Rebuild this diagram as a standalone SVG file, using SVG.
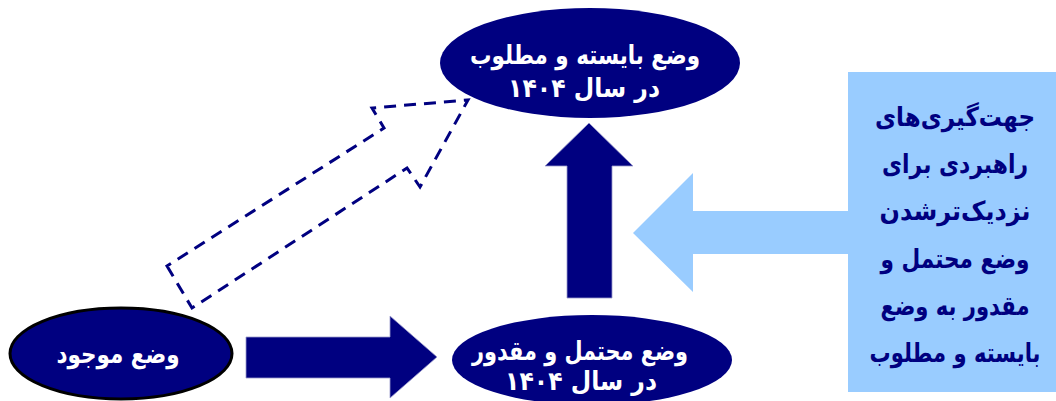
<svg xmlns="http://www.w3.org/2000/svg" width="1056" height="401" viewBox="0 0 1056 401">
<style>
.n{fill:#000080}
.wt{fill:#ffffff;font-family:"DejaVu Sans",sans-serif;font-weight:bold;font-size:26px;text-anchor:middle;direction:rtl}
.bt{fill:#000080;font-family:"DejaVu Sans",sans-serif;font-weight:bold;font-size:22px;text-anchor:middle;direction:rtl}
.arr{fill:#000080;stroke:#9999cc;stroke-width:0.8}
</style>
<rect width="1056" height="401" fill="#ffffff"/>
<g id="connectors">
<polygon id="dashed-arrow" points="167,266 192,308 407,168 420,187 468,100 372,108 384,128" fill="none" stroke="#000080" stroke-width="3" stroke-dasharray="12 8"/>
<polygon id="right-arrow" class="arr" points="246,337 390,337 390,316 437,357 390,398 390,378 246,378"/>
<polygon id="up-arrow" class="arr" points="567,298 567,166 545,166 589,123 633,166 612,166 612,298"/>
<polygon id="left-arrow" points="848,211 693,211 693,173 633,233 693,292 693,254 848,254" fill="#99ccff"/>
</g>
<g id="node-desired">
<ellipse cx="590" cy="63" rx="150" ry="55" class="n"/>
<text class="wt" x="585" y="64" textLength="230" lengthAdjust="spacingAndGlyphs">وضع بایسته و مطلوب</text>
<text class="wt" x="584" y="97" textLength="152" lengthAdjust="spacingAndGlyphs">در سال ۱۴۰۴</text>
</g>
<g id="node-current">
<ellipse cx="121" cy="353.5" rx="111" ry="45.5" class="n" stroke="#000000" stroke-width="3"/>
<text class="wt" x="118" y="363" textLength="123" lengthAdjust="spacingAndGlyphs">وضع موجود</text>
</g>
<g id="node-probable">
<ellipse cx="592" cy="360" rx="140" ry="45" class="n"/>
<text class="wt" x="580" y="360" textLength="216" lengthAdjust="spacingAndGlyphs">وضع محتمل و مقدور</text>
<text class="wt" x="581" y="390" textLength="152" lengthAdjust="spacingAndGlyphs">در سال ۱۴۰۴</text>
</g>
<g id="node-strategy">
<rect x="848" y="72" width="208" height="320" fill="#99ccff"/>
<text class="bt" transform="translate(955,126) scale(1,1.2)" textLength="160" lengthAdjust="spacingAndGlyphs">جهت‌گیری‌های</text>
<text class="bt" transform="translate(955,173) scale(1,1.2)" textLength="146" lengthAdjust="spacingAndGlyphs">راهبردی برای</text>
<text class="bt" transform="translate(955,220) scale(1,1.2)" textLength="151" lengthAdjust="spacingAndGlyphs">نزدیک‌ترشدن</text>
<text class="bt" transform="translate(955,268) scale(1,1.2)" textLength="149" lengthAdjust="spacingAndGlyphs">وضع محتمل و</text>
<text class="bt" transform="translate(955,315) scale(1,1.2)" textLength="149" lengthAdjust="spacingAndGlyphs">مقدور به وضع</text>
<text class="bt" transform="translate(955,362) scale(1,1.2)" textLength="171" lengthAdjust="spacingAndGlyphs">بایسته و مطلوب</text>
</g>
</svg>
